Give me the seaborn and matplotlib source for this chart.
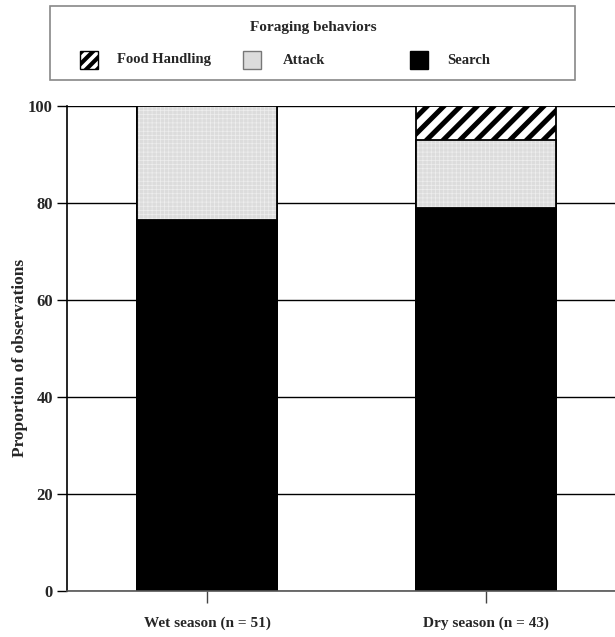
import matplotlib
matplotlib.use("Agg")
import matplotlib.pyplot as plt
from matplotlib.patches import Rectangle
import numpy as np
import pandas as pd
import seaborn as sns

# Foraging behaviour proportions (%) per season
seasons = ["Wet season (n = 51)", "Dry season (n = 43)"]
search = [76.47, 79.07]
attack = [23.53, 13.95]
food_handling = [0.0, 6.98]
yticks = [0, 20, 40, 60, 80, 100]
behaviors = ["Food Handling", "Attack", "Search"]

sns.set_theme(style="white")
plt.rcParams["font.family"] = ["Liberation Serif", "DejaVu Serif"]
plt.rcParams["font.weight"] = "bold"

W, H = 615, 637
fig = plt.figure(figsize=(W / 100, H / 100), dpi=100)
fig.patch.set_facecolor("white")
ax = fig.add_axes([67 / W, (H - 591) / H, (W - 67) / W, (591 - 106) / H])

df = pd.DataFrame({"season": seasons, "search": search,
                   "attack": attack, "food": food_handling})
df["lvl_attack"] = df["search"] + df["attack"]
df["lvl_total"] = df["lvl_attack"] + df["food"]

BW = 0.502
EDGE = 1.3


def layer(col, **kw):
    n0 = len(ax.patches)
    sns.barplot(data=df, x="season", y=col, ax=ax, width=BW, errorbar=None,
                order=seasons, **kw)
    return ax.patches[n0:]


# Stacked bars drawn as cumulative totals, top segment first
hatched = layer("lvl_total", color="white", edgecolor="black",
                linewidth=EDGE, hatch="//")
for p in hatched:
    if hasattr(p, "set_hatch_linewidth"):
        p.set_hatch_linewidth(3.6)
    p.set_facecolor("white")

dotted = layer("lvl_attack", color="#dcdcdc", edgecolor="#eeeeee",
               linewidth=0, hatch="++++")
for p in dotted:
    if hasattr(p, "set_hatch_linewidth"):
        p.set_hatch_linewidth(0.5)
    p.set_facecolor("#dcdcdc")

outline = layer("lvl_attack", fill=False, edgecolor="black", linewidth=EDGE)

solid = layer("search", color="black", edgecolor="black", linewidth=EDGE)
for p in solid:
    p.set_facecolor("black")

ax.set_xlim(-0.502, 1.462)
ax.set_ylim(0, 100)
ax.set_yticks(yticks)
ax.set_yticklabels([str(v) for v in yticks], fontsize=12, fontweight="bold")
ax.set_xticks(range(len(seasons)))
ax.set_xticklabels(seasons, fontsize=11, fontweight="bold")
ax.set_xlabel("")
ax.set_ylabel("Proportion of observations", fontsize=12.5, fontweight="bold")
ax.yaxis.set_label_coords((28 - 67) / (W - 67), 0.48)

ax.yaxis.grid(True, color="black", linewidth=1.0)
ax.xaxis.grid(False)
ax.set_axisbelow(True)
ax.tick_params(axis="y", direction="out", length=7.2, width=1.0,
               color="black", pad=3, left=True)
ax.tick_params(axis="x", direction="out", length=8.6, width=1.0,
               color="#444444", pad=10, bottom=True)
for s in ("top", "right"):
    ax.spines[s].set_visible(False)
ax.spines["left"].set_color("black")
ax.spines["left"].set_linewidth(1.2)
ax.spines["bottom"].set_color("#555555")
ax.spines["bottom"].set_linewidth(1.2)

# Legend box
def fx(px):
    return px / W


def fy(py):
    return 1 - py / H


fig.add_artist(Rectangle((fx(50), fy(80)), fx(575) - fx(50), fy(6) - fy(80),
                         transform=fig.transFigure, facecolor="white",
                         edgecolor="#888888", linewidth=1.2))
fig.text(fx(313), fy(27), "Foraging behaviors", ha="center", va="center",
         fontsize=11, fontweight="bold")
handles = [
    dict(x=80, face="white", hatch="///", edge="black", hlw=3.0),
    dict(x=243, face="#dcdcdc", hatch=None, edge="#777777", hlw=None),
    dict(x=410, face="black", hatch=None, edge="black", hlw=None),
]
label_x = [117, 283, 447]
for h, name, lx in zip(handles, behaviors, label_x):
    r = Rectangle((fx(h["x"]), fy(69)), fx(18), fy(51) - fy(69),
                  transform=fig.transFigure, facecolor=h["face"],
                  edgecolor=h["edge"], linewidth=1.0, hatch=h["hatch"])
    if h["hlw"] and hasattr(r, "set_hatch_linewidth"):
        r.set_hatch_linewidth(h["hlw"])
    fig.add_artist(r)
    fig.text(fx(lx), fy(60), name, ha="left", va="center", fontsize=10.5,
             fontweight="bold")

fig.savefig("out.png", dpi=100)
